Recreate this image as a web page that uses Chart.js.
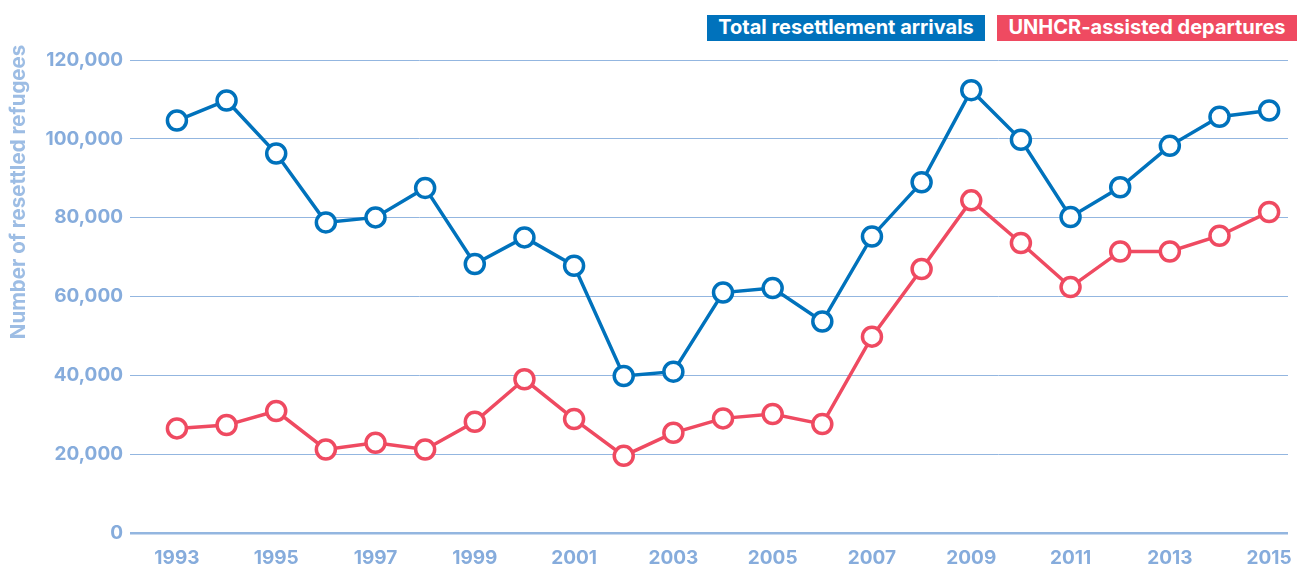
<!DOCTYPE html>
<html>
<head>
<meta charset="utf-8">
<script src="https://cdn.jsdelivr.net/npm/chart.js@4"></script>
<style>
    body { margin: 0; background: #fff; overflow: hidden; }
    #wrap { position: relative; width: 1301px; height: 565px; }
    canvas { display: block; }
    .key {
        position: absolute; top: 15px; height: 26px; line-height: 26px;
        color: #fff; font: bold 20px Inter, "Open Sans", sans-serif;
        box-sizing: border-box; text-align: center; white-space: nowrap;
    }
</style>
</head>
<body>
<div id="wrap">
    <canvas id="resettlement-chart" width="1301" height="565"></canvas>
    <div class="key" style="left:707px; width:278px; background:#0072bc;">Total resettlement arrivals</div>
    <div class="key" style="left:997px; width:300px; background:#ef4a61;">UNHCR-assisted departures</div>
</div>
<script>
const years = [1993, 1994, 1995, 1996, 1997, 1998, 1999, 2000, 2001, 2002, 2003, 2004,
    2005, 2006, 2007, 2008, 2009, 2010, 2011, 2012, 2013, 2014, 2015];
const totalArrivals = [104650, 109740, 96270, 78800, 80070, 87550, 68230, 75000, 67800, 39830,
    40930, 61000, 62130, 53640, 75240, 88970, 112350, 99750, 80170, 87700, 98220, 105600, 107200];
const unhcrDepartures = [26540, 27380, 30940, 21200, 22880, 21200, 28220, 39000, 28900, 19570,
    25420, 29080, 30170, 27630, 49820, 66960, 84390, 73570, 62380, 71430, 71430, 75420, 81450];
const yearTicks = [1993, 1995, 1997, 1999, 2001, 2003, 2005, 2007, 2009, 2011, 2013, 2015];
const yTitle = "Number of resettled refugees";

const blue = "#0072bc";
const red = "#ef4a61";
const tickColor = "#86acdc";
const gridColor = "#93b6e0";
const fontFamily = "Inter, 'Open Sans', sans-serif";

function points(values) {
    return values.map((v, i) => ({ x: years[i], y: v }));
}

function lineSet(label, values, color) {
    return {
        label: label,
        data: points(values),
        borderColor: color,
        borderWidth: 3.5,
        pointRadius: 9.5,
        pointHoverRadius: 9.5,
        pointBorderWidth: 3.5,
        pointBackgroundColor: "#fff",
        pointBorderColor: color,
        tension: 0
    };
}

// no extra room for the end labels, the plot runs right to the edge
function noPadding() {
    return { left: 0, top: 0, right: 0, bottom: 0 };
}

// y axis title sits a bit above the middle of the plot, so draw it by hand
const sideTitle = {
    id: "sideTitle",
    afterDraw(chart) {
        const ctx = chart.ctx;
        ctx.save();
        ctx.translate(19, 192);
        ctx.rotate(-Math.PI / 2);
        ctx.fillStyle = "#9dbde4";
        ctx.font = "bold 20.5px " + fontFamily;
        ctx.textAlign = "center";
        ctx.textBaseline = "middle";
        ctx.fillText(yTitle, 0, 0);
        ctx.restore();
    }
};

const chart = new Chart(document.getElementById("resettlement-chart"), {
    type: "line",
    data: {
        datasets: [
            lineSet("UNHCR-assisted departures", unhcrDepartures, red),
            lineSet("Total resettlement arrivals", totalArrivals, blue)
        ]
    },
    plugins: [sideTitle],
    options: {
        responsive: false,
        animation: false,
        layout: { padding: { top: 60, right: 4, left: 0, bottom: 0 } },
        plugins: {
            legend: { display: false },
            tooltip: { enabled: false }
        },
        scales: {
            x: {
                type: "linear",
                min: 1992.055,
                max: 2015.38,
                afterBuildTicks: axis => {
                    axis.ticks = yearTicks.map(y => ({ value: y }));
                },
                afterFit: scale => {
                    scale.height = 32;
                    scale.paddingLeft = 0;
                    scale.paddingRight = 0;
                    scale.getPadding = noPadding;
                },
                grid: { display: false },
                border: { display: false },
                ticks: {
                    color: tickColor,
                    font: { family: fontFamily, weight: "bold", size: 19 },
                    padding: 6,
                    maxRotation: 0,
                    autoSkip: false,
                    callback: v => String(v)
                }
            },
            y: {
                min: 0,
                max: 120000,
                afterFit: scale => { scale.width = 130; },
                grid: {
                    color: gridColor,
                    lineWidth: ctx => ctx.tick && ctx.tick.value === 0 ? 2.5 : 1,
                    drawTicks: false
                },
                border: { display: false },
                ticks: {
                    stepSize: 20000,
                    color: tickColor,
                    font: { family: fontFamily, weight: "bold", size: 19 },
                    padding: 7,
                    callback: v => v.toLocaleString("en-US")
                }
            }
        }
    }
});
</script>
</body>
</html>
